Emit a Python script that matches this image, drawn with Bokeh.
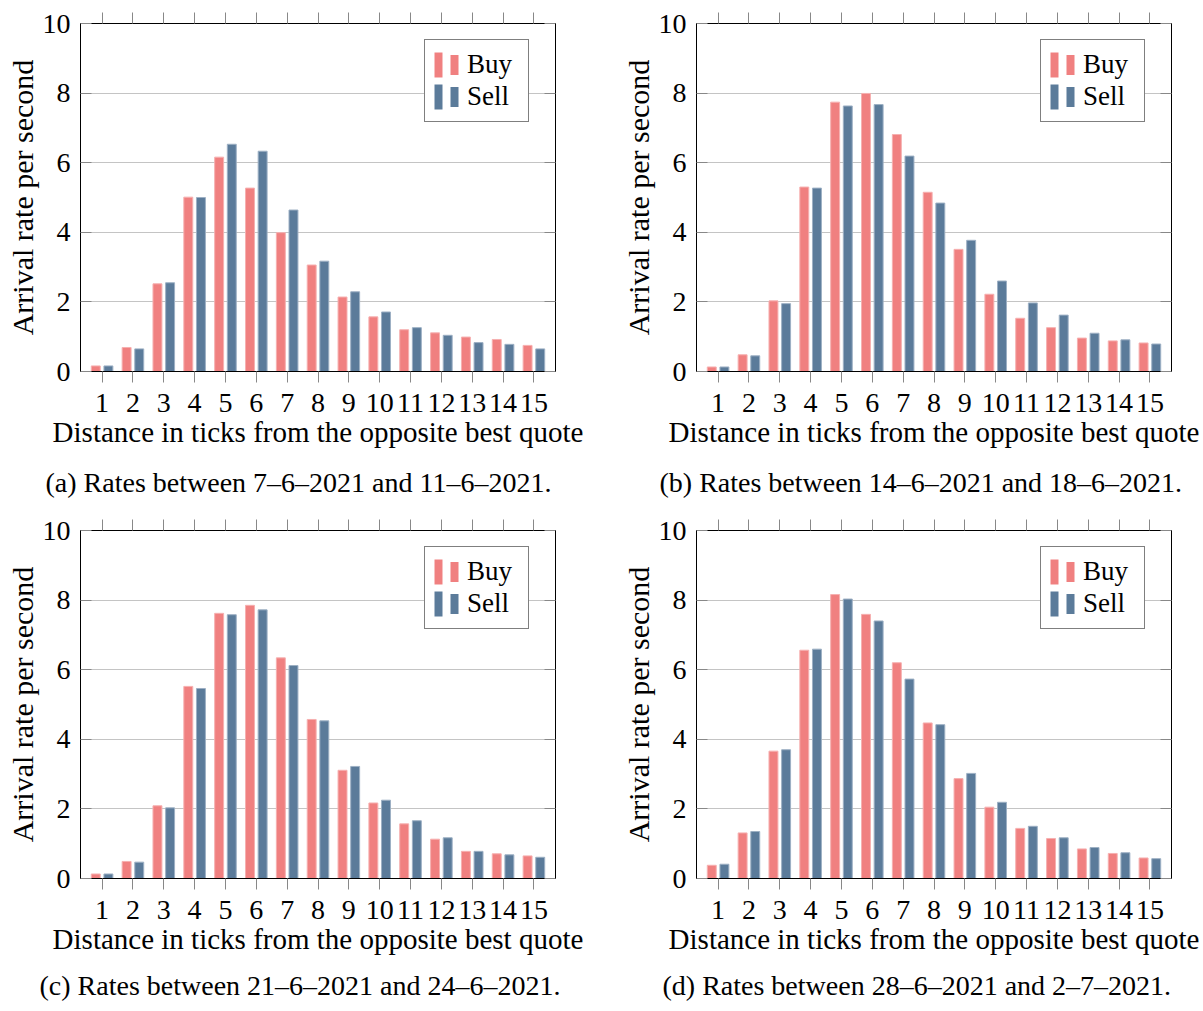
from bokeh.plotting import figure
from bokeh.models import (Range1d, FixedTicker, LinearAxis, Legend, LegendItem,
                          Title, ColumnDataSource)
from bokeh.layouts import column, row
from bokeh.transform import dodge
from bokeh.embed import file_html
from bokeh.resources import INLINE

# ---------------- data ----------------
ticks = list(range(1, 16))
y_ticks = [0, 2, 4, 6, 8, 10]

buy_a = [0.16, 0.69, 2.52, 5.01, 6.16, 5.27, 3.99, 3.06, 2.14, 1.57, 1.20, 1.11, 0.99, 0.92, 0.75]
sell_a = [0.16, 0.65, 2.55, 5.00, 6.53, 6.33, 4.64, 3.17, 2.29, 1.71, 1.26, 1.04, 0.83, 0.78, 0.65]

buy_b = [0.13, 0.48, 2.03, 5.30, 7.74, 7.99, 6.81, 5.15, 3.51, 2.22, 1.53, 1.26, 0.96, 0.88, 0.82]
sell_b = [0.13, 0.45, 1.95, 5.27, 7.63, 7.67, 6.19, 4.84, 3.77, 2.60, 1.97, 1.62, 1.10, 0.91, 0.79]

buy_c = [0.13, 0.49, 2.09, 5.52, 7.62, 7.85, 6.34, 4.57, 3.11, 2.17, 1.57, 1.13, 0.78, 0.71, 0.65]
sell_c = [0.13, 0.47, 2.03, 5.46, 7.58, 7.72, 6.12, 4.53, 3.22, 2.25, 1.66, 1.17, 0.78, 0.68, 0.61]

buy_d = [0.38, 1.31, 3.66, 6.56, 8.16, 7.59, 6.20, 4.47, 2.87, 2.05, 1.44, 1.15, 0.85, 0.72, 0.59]
sell_d = [0.41, 1.35, 3.70, 6.59, 8.03, 7.40, 5.73, 4.42, 3.02, 2.19, 1.50, 1.17, 0.89, 0.74, 0.57]

captions = [
    "(a) Rates between 7\u20136\u20132021 and 11\u20136\u20132021.",
    "(b) Rates between 14\u20136\u20132021 and 18\u20136\u20132021.",
    "(c) Rates between 21\u20136\u20132021 and 24\u20136\u20132021.",
    "(d) Rates between 28\u20136\u20132021 and 2\u20137\u20132021.",
]
series_names = ["Buy", "Sell"]
x_label = "Distance in ticks from the opposite best quote"
y_label = "Arrival rate per second"

# ---------------- style ----------------
FONT = "Liberation Serif"
BUY = "#F08080"
SELL = "#5B7B9A"
BUY_EDGE = "#F6B0B0"
SELL_EDGE = "#9DB0C4"
TICK = "#888888"
GRID = "#C4C4C4"


def make_panel(buy, sell, caption, cap_offset, cap_standoff, width, height,
               top_pad, right_pad, bottom_pad):
    src = ColumnDataSource(dict(x=ticks, buy=buy, sell=sell))
    p = figure(width=width, height=height, output_backend="svg",
               toolbar_location=None,
               x_range=Range1d(0.3, 15.7), y_range=Range1d(0, 10),
               min_border_left=80, min_border_right=right_pad,
               min_border_top=top_pad, min_border_bottom=bottom_pad)
    p.background_fill_color = "white"
    p.border_fill_color = "white"
    p.outline_line_color = "black"
    p.outline_line_width = 1

    p.vbar(x=dodge("x", -0.205, range=p.x_range), top="buy", width=0.29,
           source=src, fill_color=BUY, line_color=BUY_EDGE, line_width=1)
    p.vbar(x=dodge("x", 0.205, range=p.x_range), top="sell", width=0.29,
           source=src, fill_color=SELL, line_color=SELL_EDGE, line_width=1)

    # legend swatches (pgfplots-style: two small bars); hidden in the plot
    def swatch(color, col):
        tall = p.line(x="x", y=col, source=src, line_color=color,
                      line_width=25, line_dash="8 100", visible=False)
        short = p.line(x="x", y=col, source=src, line_color=color,
                       line_width=20, line_dash="0 16 8 100", visible=False)
        return [tall, short]

    # grid
    p.xgrid.visible = False
    p.ygrid.ticker = FixedTicker(ticks=y_ticks)
    p.ygrid.grid_line_color = GRID
    p.ygrid.grid_line_width = 1

    # bottom axis
    xa = p.xaxis[0]
    xa.ticker = FixedTicker(ticks=ticks)
    xa.axis_label = x_label
    xa.axis_label_text_font = FONT
    xa.axis_label_text_font_size = "29px"
    xa.axis_label_text_font_style = "normal"
    xa.axis_label_text_color = "black"
    xa.axis_label_standoff = 1
    xa.major_label_text_font = FONT
    xa.major_label_text_font_size = "28px"
    xa.major_label_text_color = "black"
    xa.major_label_standoff = 11
    xa.major_tick_in = 0
    xa.major_tick_out = 11
    xa.major_tick_line_color = TICK
    xa.minor_tick_line_color = None
    xa.axis_line_color = "black"

    # left axis
    ya = p.yaxis[0]
    ya.ticker = FixedTicker(ticks=y_ticks)
    ya.axis_label = y_label
    ya.axis_label_text_font = FONT
    ya.axis_label_text_font_size = "30px"
    ya.axis_label_text_font_style = "normal"
    ya.axis_label_text_color = "black"
    ya.axis_label_standoff = 1
    ya.major_label_text_font = FONT
    ya.major_label_text_font_size = "28px"
    ya.major_label_text_color = "black"
    ya.major_label_standoff = 10
    ya.major_tick_in = 11
    ya.major_tick_out = 0
    ya.major_tick_line_color = TICK
    ya.minor_tick_line_color = None
    ya.axis_line_color = "black"

    # top axis (ticks only)
    top = LinearAxis(ticker=FixedTicker(ticks=ticks),
                     major_label_text_font_size="1px",
                     major_label_text_color=None, major_label_standoff=0,
                     major_tick_in=0, major_tick_out=11,
                     major_tick_line_color=TICK, minor_tick_line_color=None,
                     axis_line_color="black")
    p.add_layout(top, "above")

    # right axis (ticks only)
    right = LinearAxis(ticker=FixedTicker(ticks=y_ticks),
                       major_label_text_font_size="1px",
                       major_label_text_color=None, major_label_standoff=0,
                       major_tick_in=11, major_tick_out=0,
                       major_tick_line_color=TICK, minor_tick_line_color=None,
                       axis_line_color="black")
    p.add_layout(right, "right")

    legend = Legend(items=[LegendItem(label=series_names[0], renderers=swatch(BUY, "buy")),
                           LegendItem(label=series_names[1], renderers=swatch(SELL, "sell"))],
                    location=(344, 249))
    legend.label_text_font = FONT
    legend.label_text_font_size = "27px"
    legend.label_text_color = "black"
    legend.glyph_width = 25
    legend.glyph_height = 27
    legend.label_standoff = 8
    legend.label_width = 52
    legend.padding = 9
    legend.spacing = 1
    legend.margin = 0
    legend.border_line_color = "black"
    legend.border_line_width = 1
    legend.background_fill_color = "white"
    legend.background_fill_alpha = 1
    p.add_layout(legend, "center")

    cap = Title(text=caption, align="left", offset=cap_offset,
                standoff=cap_standoff, vertical_align="bottom",
                text_font=FONT, text_font_size="28px",
                text_font_style="normal", text_color="black")
    p.add_layout(cap, "below")
    return p


pa = make_panel(buy_a, sell_a, captions[0], -35, 29, 616, 513, 23, 61, 142)
pb = make_panel(buy_b, sell_b, captions[1], -37, 29, 587, 513, 23, 32, 142)
pc = make_panel(buy_c, sell_c, captions[2], -41, 20, 616, 498, 17, 61, 133)
pd = make_panel(buy_d, sell_d, captions[3], -34, 20, 587, 498, 17, 32, 133)

layout = column(row(pa, pb), row(pc, pd))

open("out.html", "w").write(file_html(layout, INLINE))
